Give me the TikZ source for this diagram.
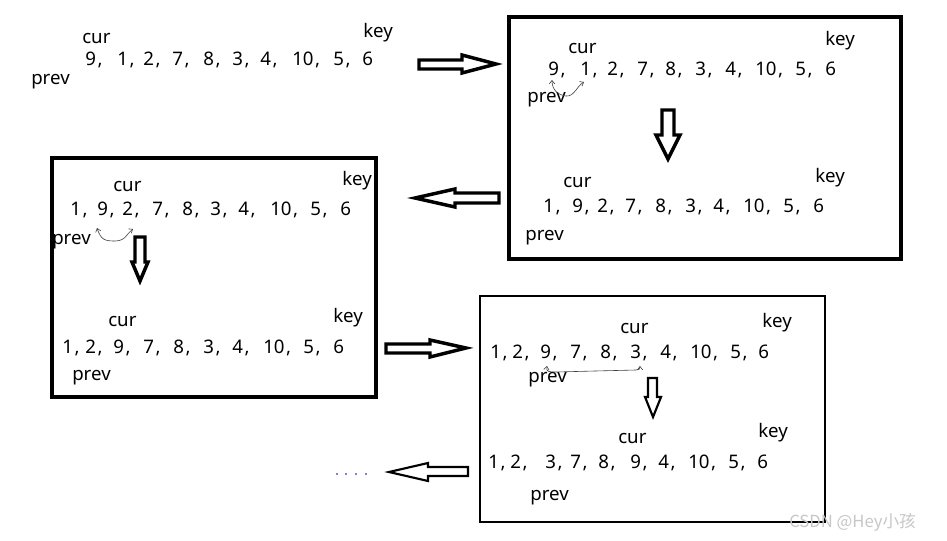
\documentclass[tikz,border=0pt]{standalone}
\usepackage{fontspec}
\setmainfont{Noto Sans}
\newfontfamily\cjkfont{Noto Sans CJK SC}
\usetikzlibrary{arrows.meta}
\tikzset{
  txt/.style={anchor=base west, inner sep=0pt, font=\fontsize{14}{16}\selectfont},
  frame/.style={draw=black, line width=#1, fill=none},
  blockarrow/.style={draw=black, line width=#1, fill=white, line join=miter},
  hand/.style={draw=black!75, line width=0.45pt, -{Straight Barb[length=2.5pt,width=4pt]}},
  handboth/.style={draw=black!75, line width=0.45pt, {Straight Barb[length=2.5pt,width=4pt]}-{Straight Barb[length=2.5pt,width=4pt]}},
}
\newcommand{\seqrow}[3]{%
  \foreach \px/\lab [count=\i] in {#3} {
    \node[txt] (#1-\i) at (\px,#2) {\lab\ifnum\i<10\kern1.2pt,\fi};
  }}
\begin{document}
\begin{tikzpicture}[x=0.75pt,y=-0.75pt]
\useasboundingbox (0,0) rectangle (947,540);
\fill[white] (0,0) rectangle (947,540);

% ---- row A (no frame)
\node[txt] (curA) at (82,43) {cur};
\node[txt] (keyA) at (363,37) {key};
\node[txt] (prevA) at (31,84) {prev};
\seqrow{A}{65}{85/9,117/1,143/2,172/7,203/8,232/3,260/4,292/10,333/5,362/6}

% ---- frame 1
\draw[frame=3.2pt] (509,17) rectangle (901,259);
\node[txt] (curB) at (568,53) {cur};
\node[txt] (keyB) at (825,45) {key};
\node[txt] (prevB) at (527,102) {prev};
\seqrow{B}{75}{548/9,580/1,607/2,637/7,665/8,695/3,725/4,755/10,795/5,825/6}
\coordinate (hB) at (566,96);
\draw[hand] (hB) .. controls (558,95) and (552,90) .. (552,80);
\draw[hand] (hB) .. controls (574,97) and (577,86) .. (584,82);
\draw[blockarrow=2.6pt] (662,110) -- (674,110) -- (674,135) -- (680,135) -- (668,159) -- (656,135) -- (662,135) -- cycle;
\node[txt] (curC) at (563,187) {cur};
\node[txt] (keyC) at (815,182) {key};
\node[txt] (prevC) at (525,240) {prev};
\seqrow{C}{212}{543/1,572/9,597/2,625/7,655/8,685/3,713/4,743/10,783/5,813/6}

% arrow row A -> frame 1
\draw[blockarrow=2.6pt] (419,60) -- (462,60) -- (462,55) -- (496,64) -- (462,73) -- (462,69) -- (419,69) -- cycle;
% arrow frame 1 -> frame 2
\draw[blockarrow=2.6pt] (499,193) -- (455,193) -- (455,189) -- (415,198) -- (455,207) -- (455,203) -- (499,203) -- cycle;

% ---- frame 2
\draw[frame=3.2pt] (52,158) rectangle (376,397);
\node[txt] (curD) at (113,191) {cur};
\node[txt] (keyD) at (342,185) {key};
\node[txt] (prevD) at (52,244) {prev};
\seqrow{D}{215}{70/1,97/9,122/2,152/7,182/8,210/3,238/4,270/10,310/5,340/6}
\draw[handboth] (97,228) .. controls (101,240) and (105,241) .. (115,241) .. controls (126,241) and (127,233) .. (133,229);
\draw[blockarrow=2.6pt] (135,237) -- (145,237) -- (145,262) -- (148,262) -- (140,281) -- (132,262) -- (135,262) -- cycle;
\node[txt] (curE) at (108,326) {cur};
\node[txt] (keyE) at (333,322) {key};
\node[txt] (prevE) at (72,380) {prev};
\seqrow{E}{353}{62/1,85/2,113/9,143/7,173/8,203/3,232/4,263/10,303/5,333/6}

% arrow frame 2 -> frame 3
\draw[blockarrow=2.6pt] (386,344) -- (430,344) -- (430,340) -- (466,348) -- (430,357) -- (430,353) -- (386,353) -- cycle;

% ---- frame 3
\draw[frame=1.6pt] (480,296) rectangle (825,522);
\node[txt] (curF) at (620,333) {cur};
\node[txt] (keyF) at (762,327) {key};
\node[txt] (prevF) at (528,382) {prev};
\seqrow{F}{358}{490/1,512/2,540/9,570/7,600/8,630/3,660/4,690/10,730/5,758/6}
\draw[handboth] (547,366) .. controls (546,372) and (549,372) .. (556,372) -- (595,371) -- (636,370) .. controls (639,370) and (640,369) .. (640,366);
\draw[blockarrow=1.6pt] (648,378) -- (657,378) -- (657,397) -- (661,397) -- (653,417) -- (645,397) -- (648,397) -- cycle;
\node[txt] (curG) at (618,443) {cur};
\node[txt] (keyG) at (758,437) {key};
\node[txt] (prevG) at (530,500) {prev};
\seqrow{G}{468}{488/1,510/2,545/3,570/7,598/8,630/9,658/4,688/10,728/5,757/6}

% arrow frame 3 -> more
\draw[blockarrow=1.6pt] (468,467) -- (428,467) -- (428,463) -- (389,472) -- (428,481) -- (428,476) -- (468,476) -- cycle;
\foreach \dx [count=\k] in {337,346,356,366} {
  \fill[blue!60!black] (\dx,474) circle (0.9);
  \coordinate (dot\k) at (\dx,474);
}

% watermark
\node[anchor=base west, inner sep=0pt, text=black!22, font=\cjkfont\fontsize{12.5}{14}\selectfont] (wm) at (789,527) {CSDN @Hey小孩};
\end{tikzpicture}
\end{document}
